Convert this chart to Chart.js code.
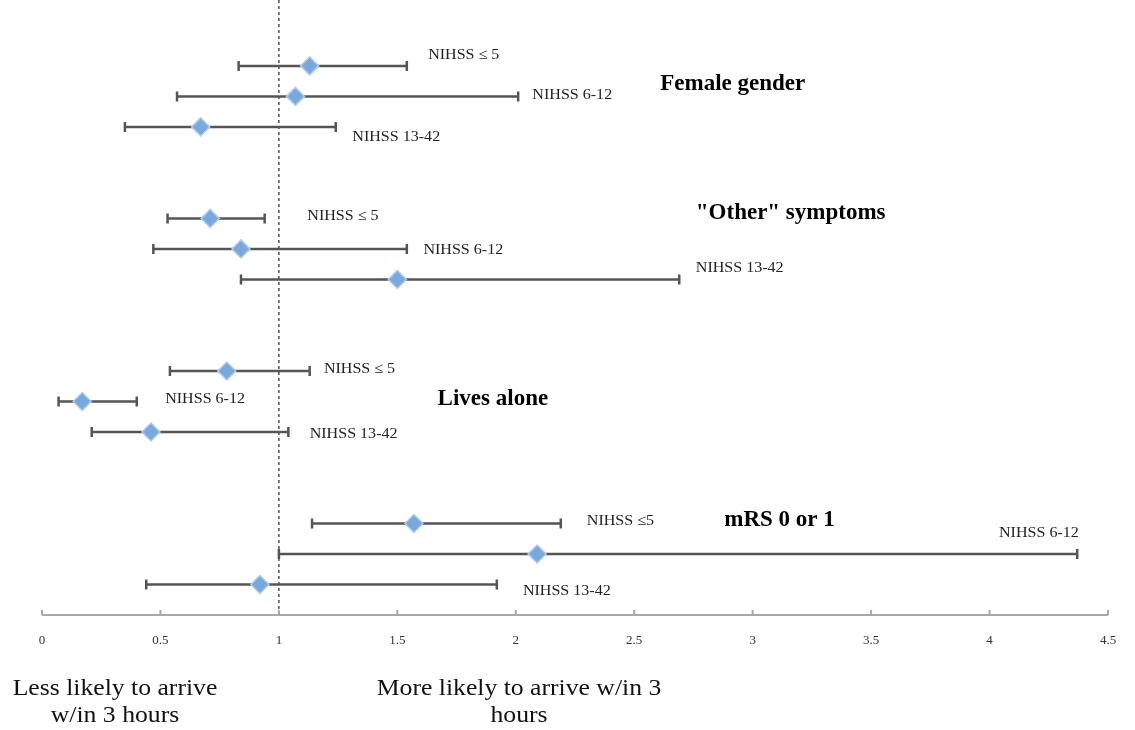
<!DOCTYPE html>
<html>
<head>
<meta charset="utf-8">
<script src="https://cdn.jsdelivr.net/npm/chart.js@4/dist/chart.umd.min.js"></script>
<style>
  html, body { margin: 0; padding: 0; background: #fff; }
  #wrap { width: 1135px; height: 730px; }
</style>
</head>
<body>
<div id="wrap"><canvas id="forest" width="1135" height="730"></canvas></div>
<script>
// data (odds ratio + 95% CI)
const groups = ["Female gender", "\"Other\" symptoms", "Lives alone", "mRS 0 or 1"];
const oddsRatio = [1.13, 1.07, 0.67,  0.71, 0.84, 1.50,  0.78, 0.17, 0.46,  1.57, 2.09, 0.92];
const ciLow     = [0.83, 0.57, 0.35,  0.53, 0.47, 0.84,  0.54, 0.07, 0.21,  1.14, 1.00, 0.44];
const ciHigh    = [1.54, 2.01, 1.24,  0.94, 1.54, 2.69,  1.13, 0.40, 1.04,  2.19, 4.37, 1.92];
const stratumText = ["NIHSS \u2264 5", "NIHSS 6-12", "NIHSS 13-42",
                     "NIHSS \u2264 5", "NIHSS 6-12", "NIHSS 13-42",
                     "NIHSS \u2264 5", "NIHSS 6-12", "NIHSS 13-42",
                     "NIHSS \u22645", "NIHSS 6-12", "NIHSS 13-42"];
const xTicks = [0, 0.5, 1, 1.5, 2, 2.5, 3, 3.5, 4, 4.5];

// row index of each estimate: 3 rows per group, 2 blank rows between groups
const rowOf = oddsRatio.map((v, i) => Math.floor(i / 3) * 5 + (i % 3));

// where the text labels sit (x in axis units, y in row units)
const stratumLabelPos = [
  [1.63, -0.36], [2.07, 0.95], [1.31, 2.33],
  [1.12, 4.92], [1.61, 6.03], [2.76, 6.62],
  [1.19, 9.93], [0.52, 10.92], [1.13, 12.07],
  [2.30, 14.92], [4.04, 15.31], [2.03, 17.21]
];
const groupLabelPos = [[2.61, 0.6], [2.76, 4.83], [1.67, 10.93], [2.88, 14.9]];

// the original image is a bit stretched sideways, so text is too
function wideText(ctx, t, x, y, sx) {
    ctx.save();
    ctx.translate(x, y);
    ctx.scale(sx, 1);
    ctx.fillText(t, 0, 0);
    ctx.restore();
}

const forestPlugin = {
    id: "forest",
    beforeDatasetsDraw(chart) {
        const ctx = chart.ctx;
        const xs = chart.scales.x, ys = chart.scales.y;
        const area = chart.chartArea;
        ctx.save();
        // reference line at OR = 1
        ctx.strokeStyle = "#333";
        ctx.lineWidth = 1.3;
        ctx.setLineDash([3, 3]);
        const x1 = xs.getPixelForValue(1);
        ctx.beginPath();
        ctx.moveTo(x1, area.top);
        ctx.lineTo(x1, area.bottom);
        ctx.stroke();
        ctx.setLineDash([]);

        // x axis line + inner tick marks
        ctx.strokeStyle = "#a8a8a8";
        ctx.lineWidth = 2;
        ctx.beginPath();
        ctx.moveTo(area.left, area.bottom);
        ctx.lineTo(area.right, area.bottom);
        xTicks.forEach(t => {
            const px = xs.getPixelForValue(t);
            ctx.moveTo(px, area.bottom - 5);
            ctx.lineTo(px, area.bottom);
        });
        ctx.stroke();

        // error bars
        ctx.strokeStyle = "#555";
        ctx.lineWidth = 2.5;
        oddsRatio.forEach((v, i) => {
            const y = ys.getPixelForValue(rowOf[i]);
            const a = xs.getPixelForValue(ciLow[i]);
            const b = xs.getPixelForValue(ciHigh[i]);
            ctx.beginPath();
            ctx.moveTo(a, y); ctx.lineTo(b, y);
            ctx.moveTo(a, y - 5); ctx.lineTo(a, y + 5);
            ctx.moveTo(b, y - 5); ctx.lineTo(b, y + 5);
            ctx.stroke();
        });
        ctx.restore();
    },
    afterDraw(chart) {
        const ctx = chart.ctx;
        const xs = chart.scales.x, ys = chart.scales.y;
        ctx.save();
        ctx.fillStyle = "#222";
        ctx.textBaseline = "middle";
        ctx.textAlign = "left";
        ctx.font = "15px 'Liberation Serif'";
        stratumText.forEach((t, i) => {
            const p = stratumLabelPos[i];
            wideText(ctx, t, xs.getPixelForValue(p[0]), ys.getPixelForValue(p[1]), 1.07);
        });
        ctx.fillStyle = "#000";
        ctx.font = "bold 23px 'Liberation Serif'";
        groups.forEach((g, i) => {
            const p = groupLabelPos[i];
            ctx.fillText(g, xs.getPixelForValue(p[0]), ys.getPixelForValue(p[1]));
        });
        // direction captions under the axis
        ctx.fillStyle = "#111";
        ctx.textAlign = "center";
        ctx.font = "24px 'Liberation Serif'";
        wideText(ctx, "Less likely to arrive", 115, 689, 1.07);
        wideText(ctx, "w/in 3 hours", 115, 716, 1.07);
        wideText(ctx, "More likely to arrive w/in 3", 519, 689, 1.07);
        wideText(ctx, "hours", 519, 716, 1.07);
        ctx.restore();
    }
};

new Chart(document.getElementById("forest").getContext("2d"), {
    type: "scatter",
    data: {
        datasets: [{
            label: "Odds ratio",
            data: oddsRatio.map((v, i) => ({ x: v, y: rowOf[i] })),
            pointStyle: "rectRot",
            pointRadius: 9,
            pointHoverRadius: 9,
            backgroundColor: "#79a8dd",
            borderColor: "#aecbec",
            borderWidth: 1.5
        }]
    },
    options: {
        responsive: false,
        animation: false,
        layout: { autoPadding: false, padding: { left: 42, right: 27, top: 0, bottom: 85 } },
        plugins: { legend: { display: false }, tooltip: { enabled: false } },
        scales: {
            x: {
                type: "linear",
                min: 0,
                max: 4.5,
                afterBuildTicks: s => { s.ticks = xTicks.map(v => ({ value: v })); },
                afterFit: s => { s.height = 30; },
                border: { display: false },
                grid: { display: false },
                ticks: {
                    padding: 10,
                    color: "#333",
                    font: { family: "'Liberation Serif'", size: 13 },
                    callback: v => String(v)
                }
            },
            y: {
                type: "linear",
                reverse: true,
                min: -2.16,
                max: 18,
                display: false
            }
        }
    },
    plugins: [forestPlugin]
});
</script>
</body>
</html>
